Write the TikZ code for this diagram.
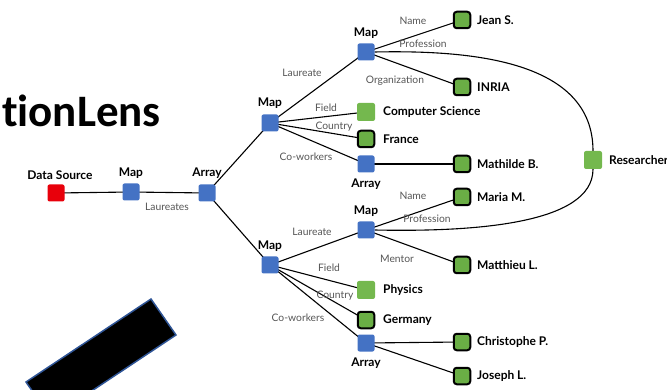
\documentclass[tikz,border=0pt]{standalone}
\usepackage{fontspec}
\setmainfont{Lato}
\newfontfamily\titlefont[Ligatures=NoCommon]{Carlito}
\usetikzlibrary{backgrounds}
\definecolor{myblue}{HTML}{4472C4}
\definecolor{mygreen}{HTML}{6AAE45}
\definecolor{lightg}{HTML}{74B84E}
\definecolor{myred}{HTML}{E8000B}
\definecolor{barblue}{HTML}{2F5597}
\definecolor{elabc}{HTML}{555555}
\tikzset{
  bsq/.style={fill=myblue, rounded corners=2pt, minimum size=17pt, inner sep=0pt},
  rsq/.style={fill=myred, rounded corners=2pt, minimum size=17pt, inner sep=0pt},
  gsq/.style={fill=mygreen, draw=black, line width=2pt, rounded corners=3pt, minimum size=16.5pt, inner sep=0pt},
  lsq/.style={fill=lightg, rounded corners=2pt, minimum size=18pt, inner sep=0pt},
  lab/.style={font=\bfseries\fontsize{12}{14}\selectfont, inner sep=0pt},
  elab/.style={font=\fontsize{10.3}{12}\selectfont, text=elabc, inner sep=0pt},
  conn/.style={draw=black, line width=1.1pt},
}
\begin{document}
\begin{tikzpicture}[x=1pt,y=-1pt]
\useasboundingbox (0,0) rectangle (667,390);
\clip (0,0) rectangle (667,390);

% title
\node[font=\titlefont\bfseries\fontsize{45}{50}\selectfont, anchor=base east, inner sep=0pt] (title) at (161,127) {tionLens};

% black bar
\draw[fill=black, draw=barblue, line width=1.5pt] (151,299) -- (176,335) -- (51,418) -- (26,382) -- cycle;

% nodes
\node[rsq] (ds) at (56,193) {};
\node[bsq] (m1) at (131,192) {};
\node[bsq] (a1) at (207,193) {};
\node[bsq] (m2) at (270,123) {};
\node[bsq] (m3) at (270,265) {};
\node[bsq] (m4) at (366,52) {};
\node[lsq] (cs) at (366,112) {};
\node[gsq] (fr) at (366,139) {};
\node[bsq] (au) at (366,164) {};
\node[gsq] (jean) at (462,20) {};
\node[gsq] (inria) at (462,87) {};
\node[gsq] (math) at (462,164) {};
\node[lsq] (res) at (593,160) {};
\node[bsq] (m5) at (366,230) {};
\node[gsq] (maria) at (462,197) {};
\node[gsq] (matt) at (462,265) {};
\node[lsq] (phys) at (366,290) {};
\node[gsq] (ger) at (366,320) {};
\node[bsq] (al) at (366,343) {};
\node[gsq] (chris) at (462,342) {};
\node[gsq] (jos) at (462,376) {};

% node labels
\node[lab] (lds) at (60,175) {Data Source};
\node[lab] (lm1) at (131,173) {Map};
\node[lab] (la1) at (207,173) {Array};
\node[lab] (lm2) at (270,103) {Map};
\node[lab] (lm3) at (270,246) {Map};
\node[lab] (lm4) at (366,33) {Map};
\node[lab] (lm5) at (366,211) {Map};
\node[lab] (lau) at (366,184) {Array};
\node[lab] (lal) at (366,363) {Array};
\node[lab, anchor=west] (tjean) at (477,20) {Jean S.};
\node[lab, anchor=west] (tinria) at (477,87) {INRIA};
\node[lab, anchor=west] (tcs) at (383,112) {Computer Science};
\node[lab, anchor=west] (tfr) at (383,139) {France};
\node[lab, anchor=west] (tmath) at (477,164) {Mathilde B.};
\node[lab, anchor=west] (tres) at (609,160) {Researcher};
\node[lab, anchor=west] (tmaria) at (477,197) {Maria M.};
\node[lab, anchor=west] (tmatt) at (477,265) {Matthieu L.};
\node[lab, anchor=west] (tphys) at (383,290) {Physics};
\node[lab, anchor=west] (tger) at (383,320) {Germany};
\node[lab, anchor=west] (tchris) at (477,342) {Christophe P.};
\node[lab, anchor=west] (tjos) at (477,376) {Joseph L.};

% edges
\begin{scope}[on background layer]
\draw[conn] (ds.center) -- (m1.center) -- (a1.center);
\draw[conn] (a1.center) -- (m2.center);
\draw[conn] (a1.center) -- (m3.center);
\draw[conn] (m2.center) -- (m4.center);
\draw[conn] (m2.center) -- (cs.center);
\draw[conn] (m2.center) -- (fr.center);
\draw[conn] (m2.center) -- (au.center);
\draw[conn] (m4.center) -- (jean.center);
\draw[conn] (m4.center) -- (inria.center);
\draw[conn] (au.center) -- (math.center);
\draw[conn] (m4.east) .. controls (470,50) and (593,60) .. (res.north);
\draw[conn] (m5.east) .. controls (470,232) and (593,225) .. (res.south);
\draw[conn] (m3.center) -- (m5.center);
\draw[conn] (m3.center) -- (phys.center);
\draw[conn] (m3.center) -- (ger.center);
\draw[conn] (m3.center) -- (al.center);
\draw[conn] (m5.center) -- (maria.center);
\draw[conn] (m5.center) -- (matt.center);
\draw[conn] (al.center) -- (chris.center);
\draw[conn] (al.center) -- (jos.center);
\end{scope}

% edge labels
\node[elab] (e1) at (167,207) {Laureates};
\node[elab] (e2) at (302,73) {Laureate};
\node[elab] (e3) at (326,108) {Field};
\node[elab] (e4) at (334,127) {Country};
\node[elab] (e5) at (306,157) {Co-workers};
\node[elab] (e6) at (413,21) {Name};
\node[elab] (e7) at (423,44) {Profession};
\node[elab] (e8) at (395,81) {Organization};
\node[elab] (e9) at (413,196) {Name};
\node[elab] (e10) at (427,219) {Profession};
\node[elab] (e11) at (312,232) {Laureate};
\node[elab] (e12) at (397,259) {Mentor};
\node[elab] (e13) at (329,268) {Field};
\node[elab] (e14) at (335,296) {Country};
\node[elab] (e15) at (298,318) {Co-workers};
\end{tikzpicture}
\end{document}
